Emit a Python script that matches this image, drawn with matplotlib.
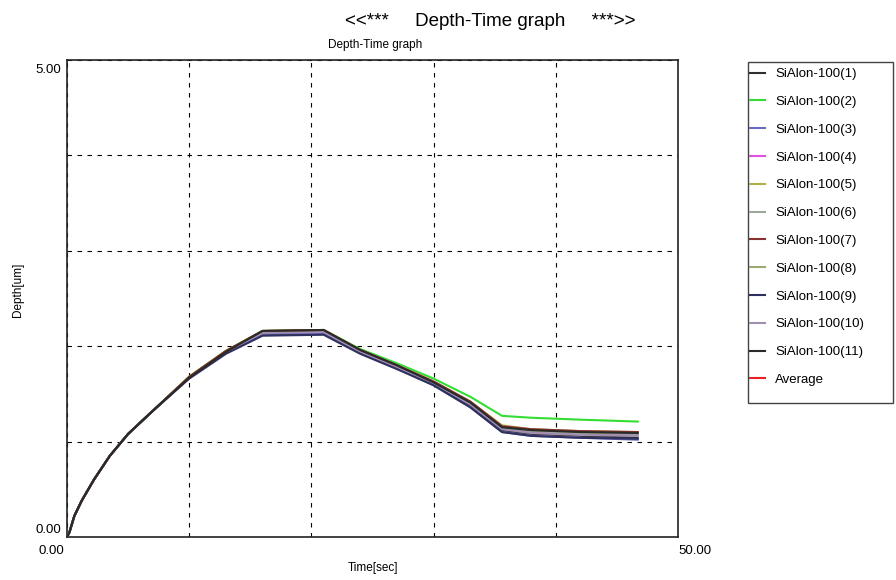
import matplotlib
matplotlib.use("Agg")
import matplotlib.pyplot as plt
from matplotlib.patches import Rectangle
from matplotlib.transforms import ScaledTranslation

plt.rcParams['font.family'] = ['Liberation Sans', 'DejaVu Sans']

time_s = [0.0, 0.2, 0.6, 1.2, 2.2, 3.5, 5.0, 7.0, 10.0, 13.0, 16.0, 21.0, 24.0, 27.0, 30.0, 33.0, 35.6, 38.0, 42.0, 46.7]

series_names = ["SiAlon-100(1)", "SiAlon-100(2)", "SiAlon-100(3)", "SiAlon-100(4)",
                "SiAlon-100(5)", "SiAlon-100(6)", "SiAlon-100(7)", "SiAlon-100(8)",
                "SiAlon-100(9)", "SiAlon-100(10)", "SiAlon-100(11)", "Average"]

depth_1 = [0.0, 0.05, 0.22, 0.38, 0.60, 0.85, 1.08, 1.32, 1.67, 1.93, 2.12, 2.13, 1.93, 1.77, 1.60, 1.38, 1.12, 1.08, 1.06, 1.04]
depth_2 = [0.0, 0.05, 0.22, 0.38, 0.60, 0.85, 1.08, 1.32, 1.68, 1.95, 2.16, 2.17, 1.97, 1.82, 1.66, 1.47, 1.27, 1.25, 1.23, 1.21]
depth_3 = [0.0, 0.05, 0.22, 0.38, 0.60, 0.85, 1.08, 1.32, 1.67, 1.93, 2.13, 2.14, 1.94, 1.77, 1.59, 1.36, 1.10, 1.06, 1.04, 1.02]
depth_4 = [0.0, 0.05, 0.22, 0.38, 0.60, 0.85, 1.08, 1.32, 1.67, 1.94, 2.15, 2.16, 1.95, 1.79, 1.62, 1.40, 1.14, 1.10, 1.08, 1.07]
depth_5 = [0.0, 0.05, 0.22, 0.38, 0.60, 0.85, 1.08, 1.32, 1.68, 1.95, 2.16, 2.17, 1.96, 1.80, 1.63, 1.42, 1.17, 1.13, 1.11, 1.10]
depth_6 = [0.0, 0.05, 0.22, 0.38, 0.60, 0.85, 1.08, 1.32, 1.67, 1.94, 2.15, 2.16, 1.95, 1.79, 1.62, 1.40, 1.15, 1.11, 1.09, 1.08]
depth_7 = [0.0, 0.05, 0.22, 0.38, 0.60, 0.85, 1.08, 1.32, 1.68, 1.95, 2.16, 2.17, 1.96, 1.80, 1.63, 1.42, 1.16, 1.13, 1.11, 1.10]
depth_8 = [0.0, 0.05, 0.22, 0.38, 0.60, 0.85, 1.08, 1.32, 1.67, 1.94, 2.15, 2.16, 1.95, 1.79, 1.62, 1.41, 1.15, 1.12, 1.10, 1.09]
depth_9 = [0.0, 0.05, 0.22, 0.38, 0.60, 0.85, 1.08, 1.32, 1.66, 1.92, 2.11, 2.12, 1.92, 1.76, 1.59, 1.36, 1.10, 1.06, 1.04, 1.03]
depth_10 = [0.0, 0.05, 0.22, 0.38, 0.60, 0.85, 1.08, 1.32, 1.67, 1.94, 2.14, 2.15, 1.94, 1.78, 1.61, 1.39, 1.13, 1.09, 1.07, 1.06]
depth_11 = [0.0, 0.05, 0.22, 0.38, 0.60, 0.85, 1.08, 1.32, 1.67, 1.94, 2.16, 2.17, 1.96, 1.80, 1.62, 1.41, 1.15, 1.12, 1.10, 1.09]
depth_avg = [0.0, 0.05, 0.22, 0.38, 0.60, 0.85, 1.08, 1.32, 1.67, 1.94, 2.15, 2.16, 1.95, 1.79, 1.62, 1.41, 1.15, 1.11, 1.09, 1.08]

all_depths = [depth_1, depth_2, depth_3, depth_4, depth_5, depth_6,
              depth_7, depth_8, depth_9, depth_10, depth_11, depth_avg]

colors = ["#303030", "#33dd33", "#6a6ac0", "#e050e0", "#b0b040", "#9aaa9a",
          "#8a3030", "#9aaa70", "#303060", "#a090b0", "#2a2a2a", "#ee2020"]
draw_order = [3, 3, 3, 3, 3, 3, 4, 3, 4, 3, 5, 2]

x_ticks = [0, 10, 20, 30, 40, 50]
x_tick_labels = ["0.00", "", "", "", "", "50.00"]
y_ticks = [0, 1, 2, 3, 4, 5]
y_tick_labels = ["0.00", "", "", "", "", "5.00"]

W, H = 896, 580
fig = plt.figure(figsize=(8.96, 5.80), dpi=100)
ax = fig.add_axes([67 / W, 1 - 537 / H, (678 - 67) / W, (537 - 60) / H])

for name, d, c, z in zip(series_names, all_depths, colors, draw_order):
    ax.plot(time_s, d, color=c, lw=1.5, label=name, zorder=z)

ax.set_xlim(0, 50)
ax.set_ylim(0, 5)
ax.set_xticks(x_ticks)
ax.set_xticklabels(x_tick_labels, fontsize=9.5)
ax.set_yticks(y_ticks)
ax.set_yticklabels(y_tick_labels, fontsize=9.5)
ax.tick_params(axis="x", length=0, pad=6)
ax.tick_params(axis="y", length=0, pad=4)
xl = ax.get_xticklabels()
xl[0].set_ha("right")
xl[-1].set_ha("left")
yl = ax.get_yticklabels()
yl[0].set_va("bottom")
yl[-1].set_va("top")
yl[-1].set_transform(yl[-1].get_transform() + ScaledTranslation(0, -4 / 100, fig.dpi_scale_trans))
yl[0].set_transform(yl[0].get_transform() + ScaledTranslation(0, 1 / 100, fig.dpi_scale_trans))
xl[0].set_transform(xl[0].get_transform() + ScaledTranslation(-3 / 100, 0, fig.dpi_scale_trans))
ax.grid(True, color="black", linestyle=(0, (4, 5)), lw=0.8)
for s in ax.spines.values():
    s.set_linewidth(1.2)
    s.set_color("#222222")

fig.text(373 / W, 1 - 568 / H, "Time[sec]", ha="center", va="center", fontsize=8.5)
fig.text(18 / W, 1 - 290 / H, "Depth[um]", ha="center", va="center", fontsize=8.5, rotation=90)

fig.text(490 / W, 1 - 22 / H, "<<***     Depth-Time graph     ***>>",
         ha="center", va="center", fontsize=13.5)
fig.text(375 / W, 1 - 45 / H, "Depth-Time graph", ha="center", va="center", fontsize=8.5)

leg = fig.legend(loc="upper left", bbox_to_anchor=(750 / W, 1 - 68 / H),
                 fontsize=9.5, frameon=False,
                 handlelength=1.14, handletextpad=0.76, labelspacing=1.18,
                 borderpad=0, borderaxespad=0)
fig.patches.append(Rectangle((748 / W, 1 - 403 / H), 145 / W, (403 - 62) / H,
                             transform=fig.transFigure, fill=False,
                             edgecolor="#444444", lw=1.0))

fig.savefig("out.png", dpi=100)
